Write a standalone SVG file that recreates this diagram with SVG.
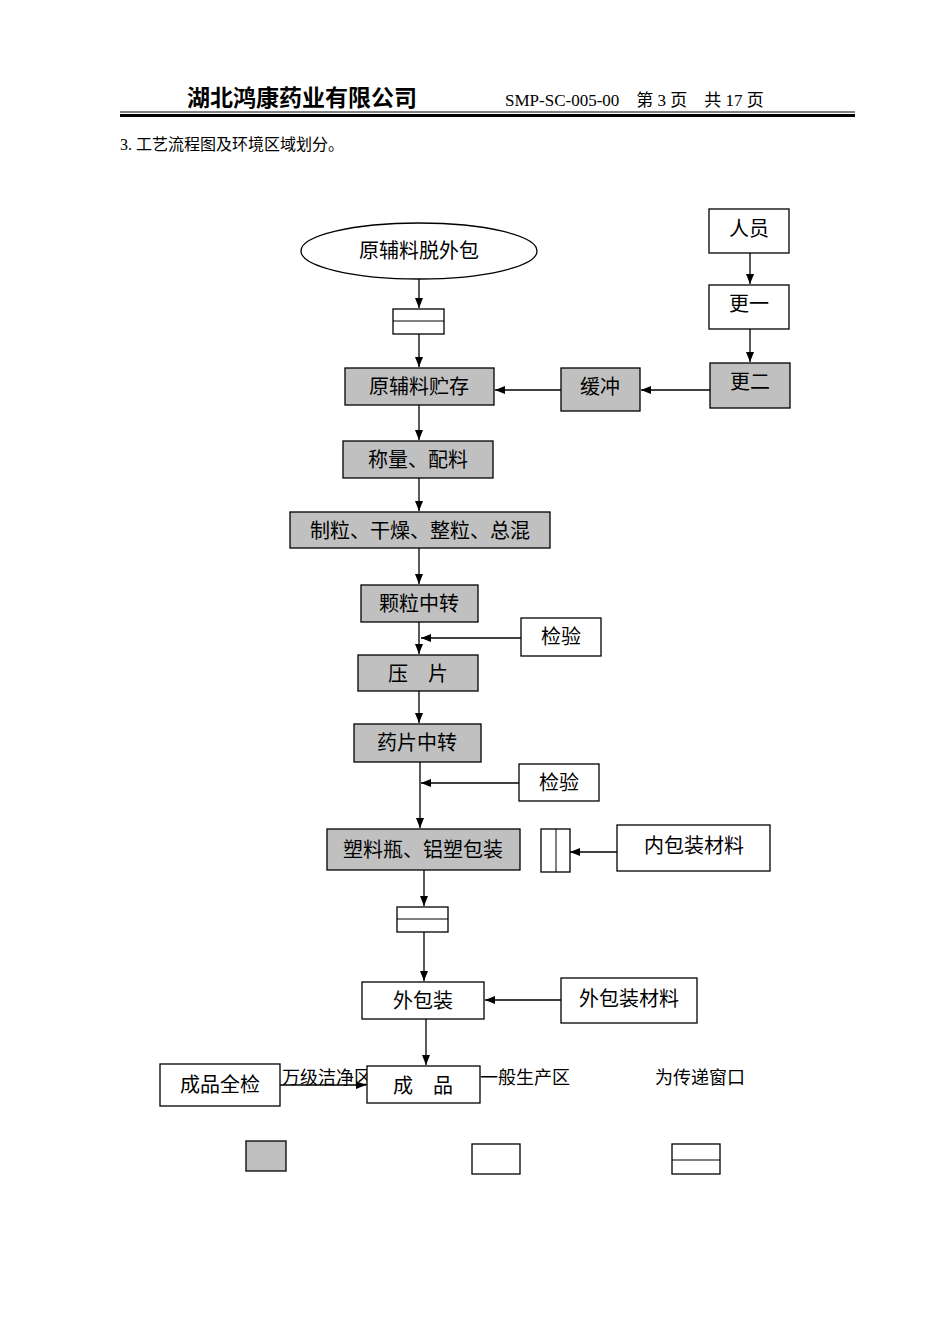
<svg xmlns="http://www.w3.org/2000/svg" width="950" height="1344" viewBox="0 0 950 1344">
<style>
text{font-family:"Liberation Serif","Noto Sans CJK SC",serif;fill:#000}
.n{fill:#fff;stroke:#000;stroke-width:1.3}
.g{fill:#c0c0c0;stroke:#000;stroke-width:1.3}
.t{font-size:20px;text-anchor:middle}
.c line{stroke:#000;stroke-width:1.3;marker-end:url(#a)}
</style>
<defs><marker id="a" markerWidth="10" markerHeight="8" refX="10" refY="4" orient="auto" markerUnits="userSpaceOnUse"><path d="M0,0L10,4L0,8z" fill="#000"/></marker></defs>
<rect width="950" height="1344" fill="#fff"/>
<g id="header">
<text x="187" y="106" font-size="23" font-weight="bold" style="font-family:'Noto Sans CJK SC',serif">湖北鸿康药业有限公司</text>
<text x="505" y="106" font-size="17">SMP-SC-005-00　第 3 页　共 17 页</text>
<line x1="120" y1="112" x2="855" y2="112" stroke="#000" stroke-width="1"/>
<line x1="120" y1="115.5" x2="855" y2="115.5" stroke="#000" stroke-width="3"/>
<text x="120" y="150" font-size="16">3. 工艺流程图及环境区域划分。</text>
</g>
<g class="c">
<line x1="419" y1="279" x2="419" y2="308"/>
<line x1="419" y1="334" x2="419" y2="367"/>
<line x1="750" y1="253" x2="750" y2="284"/>
<line x1="750" y1="329" x2="750" y2="362"/>
<line x1="710" y1="390" x2="641" y2="390"/>
<line x1="561" y1="390" x2="495" y2="390"/>
<line x1="419" y1="405" x2="419" y2="440"/>
<line x1="419" y1="478" x2="419" y2="511"/>
<line x1="419" y1="548" x2="419" y2="584"/>
<line x1="419" y1="622" x2="419" y2="654"/>
<line x1="521" y1="638" x2="421" y2="638"/>
<line x1="419" y1="691" x2="419" y2="723"/>
<line x1="420" y1="762" x2="420" y2="828"/>
<line x1="519" y1="783" x2="421" y2="783"/>
<line x1="617" y1="852" x2="570" y2="852"/>
<line x1="424" y1="870" x2="424" y2="906"/>
<line x1="424" y1="932" x2="424" y2="981"/>
<line x1="561" y1="1000" x2="485" y2="1000"/>
<line x1="426" y1="1019" x2="426" y2="1065"/>
<line x1="280" y1="1085" x2="366" y2="1085"/>
</g>
<g id="legendtext" font-size="18">
<text x="282" y="1084" font-size="18">万级洁净区</text>
<text x="480" y="1084" font-size="18">一般生产区</text>
<text x="655" y="1084" font-size="18">为传递窗口</text>
</g>
<g id="n1"><ellipse cx="419" cy="251" rx="118" ry="28" class="n"/><text class="t" x="419" y="258">原辅料脱外包</text></g>
<g id="w1"><rect x="393" y="309" width="51" height="25" class="n"/><line x1="393" y1="321" x2="444" y2="321" stroke="#000"/></g>
<g id="n2"><rect x="345" y="368" width="149" height="37" class="g"/><text class="t" x="419" y="394">原辅料贮存</text></g>
<g id="n3"><rect x="561" y="368" width="79" height="43" class="g"/><text class="t" x="600" y="394">缓冲</text></g>
<g id="n4"><rect x="709" y="209" width="80" height="44" class="n"/><text class="t" x="749" y="236">人员</text></g>
<g id="n5"><rect x="709" y="285" width="80" height="44" class="n"/><text class="t" x="749" y="311">更一</text></g>
<g id="n6"><rect x="710" y="363" width="80" height="45" class="g"/><text class="t" x="750" y="389">更二</text></g>
<g id="n7"><rect x="343" y="441" width="150" height="37" class="g"/><text class="t" x="418" y="467">称量、配料</text></g>
<g id="n8"><rect x="290" y="512" width="260" height="36" class="g"/><text class="t" x="420" y="538">制粒、干燥、整粒、总混</text></g>
<g id="n9"><rect x="361" y="585" width="117" height="37" class="g"/><text class="t" x="419" y="611">颗粒中转</text></g>
<g id="n10"><rect x="521" y="618" width="80" height="38" class="n"/><text class="t" x="561" y="644">检验</text></g>
<g id="n11"><rect x="358" y="655" width="120" height="36" class="g"/><text class="t" x="418" y="681">压　片</text></g>
<g id="n12"><rect x="354" y="724" width="127" height="38" class="g"/><text class="t" x="417" y="750">药片中转</text></g>
<g id="n13"><rect x="519" y="764" width="80" height="37" class="n"/><text class="t" x="559" y="790">检验</text></g>
<g id="n14"><rect x="327" y="829" width="193" height="41" class="g"/><text class="t" x="423" y="857">塑料瓶、铝塑包装</text></g>
<g id="w2"><rect x="541" y="829" width="29" height="43" class="n"/><line x1="556" y1="829" x2="556" y2="872" stroke="#000"/></g>
<g id="n15"><rect x="617" y="825" width="153" height="46" class="n"/><text class="t" x="694" y="853">内包装材料</text></g>
<g id="w3"><rect x="397" y="907" width="51" height="25" class="n"/><line x1="397" y1="919" x2="448" y2="919" stroke="#000"/></g>
<g id="n16"><rect x="362" y="982" width="122" height="37" class="n"/><text class="t" x="423" y="1008">外包装</text></g>
<g id="n17"><rect x="561" y="978" width="136" height="45" class="n"/><text class="t" x="629" y="1006">外包装材料</text></g>
<g id="n18"><rect x="367" y="1066" width="113" height="37" class="n"/><text class="t" x="423" y="1093">成　品</text></g>
<g id="n19"><rect x="160" y="1064" width="120" height="42" class="n"/><text class="t" x="220" y="1092">成品全检</text></g>
<g id="legend">
<rect x="246" y="1141" width="40" height="30" class="g"/>
<rect x="472" y="1144" width="48" height="30" class="n"/>
<rect x="672" y="1144" width="48" height="30" class="n"/><line x1="672" y1="1160" x2="720" y2="1160" stroke="#000"/>
</g>
</svg>
